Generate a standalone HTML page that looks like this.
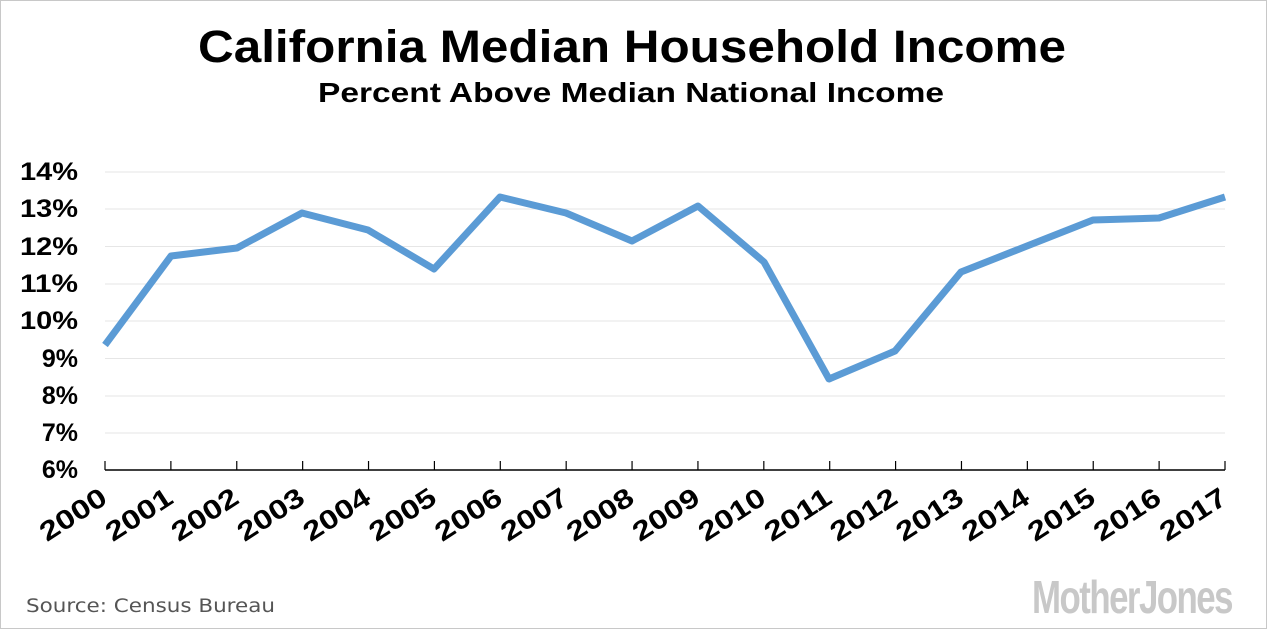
<!DOCTYPE html>
<html><head><style>
body{margin:0;background:#fff;}
svg{display:block;}
</style></head><body>
<svg width="1268" height="630" xmlns="http://www.w3.org/2000/svg">
<rect x="0.5" y="0.5" width="1266" height="628" fill="#fff" stroke="#c8c8c8"/>
<text x="632" y="62" text-anchor="middle" font-family="Liberation Sans, sans-serif" font-weight="bold" font-size="45" fill="#000" textLength="868" lengthAdjust="spacingAndGlyphs">California Median Household Income</text>
<text x="631" y="102" text-anchor="middle" font-family="Liberation Sans, sans-serif" font-weight="bold" font-size="28" fill="#000" textLength="626" lengthAdjust="spacingAndGlyphs">Percent Above Median National Income</text>
<g stroke="#e6e6e6" stroke-width="1">
<line x1="105" x2="1225" y1="172" y2="172"/><line x1="105" x2="1225" y1="209" y2="209"/>
<line x1="105" x2="1225" y1="246.5" y2="246.5"/><line x1="105" x2="1225" y1="284" y2="284"/>
<line x1="105" x2="1225" y1="321" y2="321"/><line x1="105" x2="1225" y1="358.5" y2="358.5"/>
<line x1="105" x2="1225" y1="396" y2="396"/><line x1="105" x2="1225" y1="433" y2="433"/>
</g>
<g font-family="Liberation Sans, sans-serif" font-weight="bold" font-size="25" text-anchor="end" fill="#000">
<text x="78" y="180" textLength="58" lengthAdjust="spacingAndGlyphs">14%</text><text x="78" y="217" textLength="58" lengthAdjust="spacingAndGlyphs">13%</text><text x="78" y="255" textLength="58" lengthAdjust="spacingAndGlyphs">12%</text>
<text x="78" y="292" textLength="58" lengthAdjust="spacingAndGlyphs">11%</text><text x="78" y="329" textLength="58" lengthAdjust="spacingAndGlyphs">10%</text><text x="78" y="367">9%</text>
<text x="78" y="404">8%</text><text x="78" y="441">7%</text><text x="78" y="478">6%</text>
</g>
<line x1="105" x2="1225" y1="470" y2="470" stroke="#000" stroke-width="1.5"/>
<g stroke="#000" stroke-width="1.2" id="ticks"></g>
<polyline fill="none" stroke="#5b9bd5" stroke-width="7" stroke-linejoin="round" points="105,345 171,256 237,248 302,213 368,230 434,269 500,197 566,213 632,241 698,206 764,262 829,379 895,351 961,272 1027,246 1093,220 1159,218 1225,197"/>
<g id="xl" font-family="Liberation Sans, sans-serif" font-weight="bold" font-size="27" text-anchor="end" fill="#000"></g>
<text x="26" y="612" font-family="DejaVu Sans, sans-serif" font-size="19" fill="#555" textLength="249" lengthAdjust="spacingAndGlyphs">Source:  Census Bureau</text>
<text x="1232" y="613" text-anchor="end" font-family="Liberation Sans Narrow, Liberation Sans, sans-serif" font-weight="bold" font-size="46" fill="#c8c8c8" textLength="200" lengthAdjust="spacingAndGlyphs" letter-spacing="-2">MotherJones</text>
</svg>
<script>
var t=document.getElementById('ticks'),xl=document.getElementById('xl'),ns='http://www.w3.org/2000/svg';
for(var i=0;i<18;i++){var x=105+i*(1120/17);
var l=document.createElementNS(ns,'line');l.setAttribute('x1',x);l.setAttribute('x2',x);l.setAttribute('y1',461);l.setAttribute('y2',470);t.appendChild(l);
var s=document.createElementNS(ns,'text');s.setAttribute('transform','translate('+(x+4)+',502) rotate(-33)');s.setAttribute('textLength','74');s.setAttribute('lengthAdjust','spacingAndGlyphs');s.textContent=2000+i;xl.appendChild(s);}
</script>
</body></html>
